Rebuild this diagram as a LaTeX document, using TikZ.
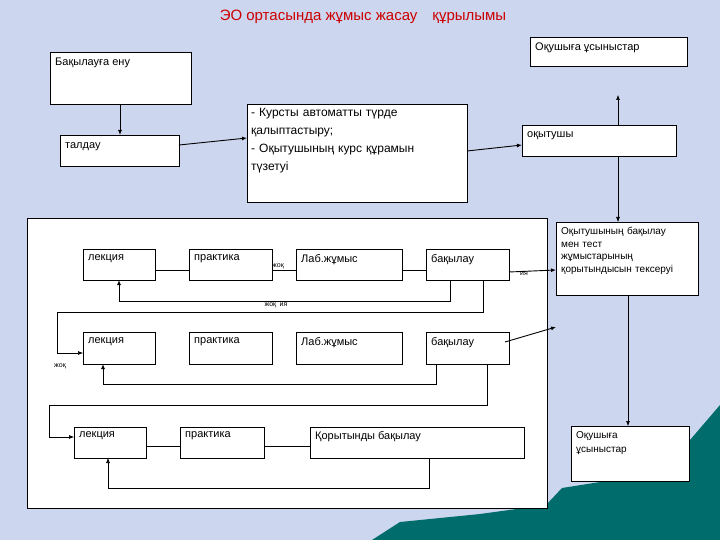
\documentclass[tikz,border=0pt]{standalone}
\usepackage{fontspec}
\setmainfont{Liberation Sans}
\usetikzlibrary{arrows.meta}
\definecolor{bgc}{HTML}{CCD6EE}
\begin{document}
\begin{tikzpicture}[x=1pt,y=-1pt,
  box/.style={draw=black,fill=white,line width=0.6pt},
  txt/.style={anchor=north west,font=\fontsize{11}{13}\selectfont,inner sep=0pt},
  ln/.style={line width=0.6pt},
  arr/.style={line width=0.9pt,-{Latex[length=5pt,width=4pt]}},
  lbl/.style={font=\fontsize{7}{8}\selectfont,inner sep=0pt}]
\fill[bgc] (0,0) rectangle (720,540);
\useasboundingbox (0,0) rectangle (720,540);
\fill[teal!85!black] (372,540) -- (400,522) -- (480,514) -- (546,505) -- (562,488) -- (600,482) -- (650,478) -- (690,440) -- (720,405) -- (720,540) -- cycle;
\node[text=red!80!black,font=\fontsize{15}{17}\selectfont] (title) at (363,17) {ЭО ортасында жұмыс жасау\quad құрылымы};
% top boxes
\draw[box] (50,52) rectangle (191,104); \node[txt] (a) at (55,58) {Бақылауға ену};
\draw[box] (60,135) rectangle (179,166); \node[txt] (b) at (65,142) {талдау};
\draw[box] (247,104) rectangle (467,202);
\node[txt,text width=190pt,align=left,font=\fontsize{12}{18}\selectfont] (c) at (251,108) {- Курсты автоматты түрде қалыптастыру;\\- Оқытушының курс құрамын түзетуі};
\draw[box] (522,125) rectangle (676,156); \node[txt] (d) at (527,131) {оқытушы};
\draw[box] (530,37) rectangle (687,66); \node[txt] (e) at (535,43) {Оқушыға ұсыныстар};
\coordinate (a1) at (120,104); \coordinate (b1) at (120,135);
\draw[arr] (a1) -- (b1);
\coordinate (b2) at (179,145); \coordinate (c1) at (247,138);
\draw[arr] (b2) -- (c1);
\coordinate (c2) at (467,151); \coordinate (d1) at (522,145);
\draw[arr] (c2) -- (d1);
\coordinate (d2) at (618,125); \coordinate (e1) at (618,95);
\draw[ln,-{Latex[length=5pt,width=4pt]}] (d2) -- (e1);
% right boxes
\draw[box] (556,222) rectangle (698,295);
\node[txt,text width=130pt,align=left,font=\fontsize{10}{12.5}\selectfont] (f) at (561,227) {Оқытушының бақылау\\мен тест\\жұмыстарының\\қорытындысын тексеруі};
\draw[box] (571,426) rectangle (689,481);
\node[txt,text width=110pt,align=left,font=\fontsize{10}{14}\selectfont] (g) at (576,431) {Оқушыға\\ұсыныстар};
\coordinate (d3) at (618,156); \coordinate (f1) at (618,222);
\draw[ln,-{Latex[length=5pt,width=4pt]}] (d3) -- (f1);
\coordinate (f2) at (628,295); \coordinate (g1) at (628,426);
\draw[ln,-{Latex[length=5pt,width=4pt]}] (f2) -- (g1);
% big box
\draw[box] (27,218) rectangle (547,508);
% row1
\draw[ln] (155,270) -- (189,270) (272,270) -- (296,270) (402,270) -- (426,270);
\draw[box] (83,249) rectangle (155,280); \node[txt] (r1a) at (88,254) {лекция};
\draw[box] (189,249) rectangle (272,280); \node[txt] (r1b) at (194,254) {практика};
\draw[box] (296,249) rectangle (402,280); \node[txt] (r1c) at (301,254) {Лаб.жұмыс};
\draw[box] (426,249) rectangle (509,280); \node[txt] (r1d) at (431,254) {бақылау};
\node[lbl] (l1) at (278,266) {жоқ};
\draw[arr] (450,280) -- (450,301) -- (119,301) -- (119,280);
\node[lbl] (l2) at (276,305) {жоқ\enspace ия};
\draw[ln,-{Latex[length=5pt,width=4pt]}] (483,280) -- (483,312) -- (57,312) -- (57,353) -- (83,353);
\coordinate (r1e) at (509,272); \coordinate (f3) at (556,270);
\draw[arr] (r1e) -- (f3);
\node[lbl] (l3) at (524,274) {ия};
% row2
\draw[box] (83,332) rectangle (155,364); \node[txt] (r2a) at (88,337) {лекция};
\draw[box] (189,332) rectangle (272,364); \node[txt] (r2b) at (194,337) {практика};
\draw[box] (296,332) rectangle (402,364); \node[txt] (r2c) at (301,337) {Лаб.жұмыс};
\draw[box] (426,332) rectangle (509,364); \node[txt] (r2d) at (431,337) {бақылау};
\node[lbl] (l4) at (60,366) {жоқ};
\draw[arr] (436,364) -- (436,384) -- (103,384) -- (103,364);
\draw[ln,-{Latex[length=5pt,width=4pt]}] (487,364) -- (487,405) -- (49,405) -- (49,437) -- (74,437);
\coordinate (r2e) at (505,342); \coordinate (f4) at (556,327);
\draw[arr] (r2e) -- (f4);
% row3
\draw[ln] (146,446) -- (180,446) (264,446) -- (310,446);
\draw[box] (74,427) rectangle (146,458); \node[txt] (r3a) at (79,431) {лекция};
\draw[box] (180,427) rectangle (264,458); \node[txt] (r3b) at (185,431) {практика};
\draw[box] (310,427) rectangle (524,458); \node[txt] (r3c) at (315,431) {Қорытынды бақылау};
\draw[ln,-{Latex[length=5pt,width=4pt]}] (429,458) -- (429,488) -- (108,488) -- (108,458);
\end{tikzpicture}
\end{document}
